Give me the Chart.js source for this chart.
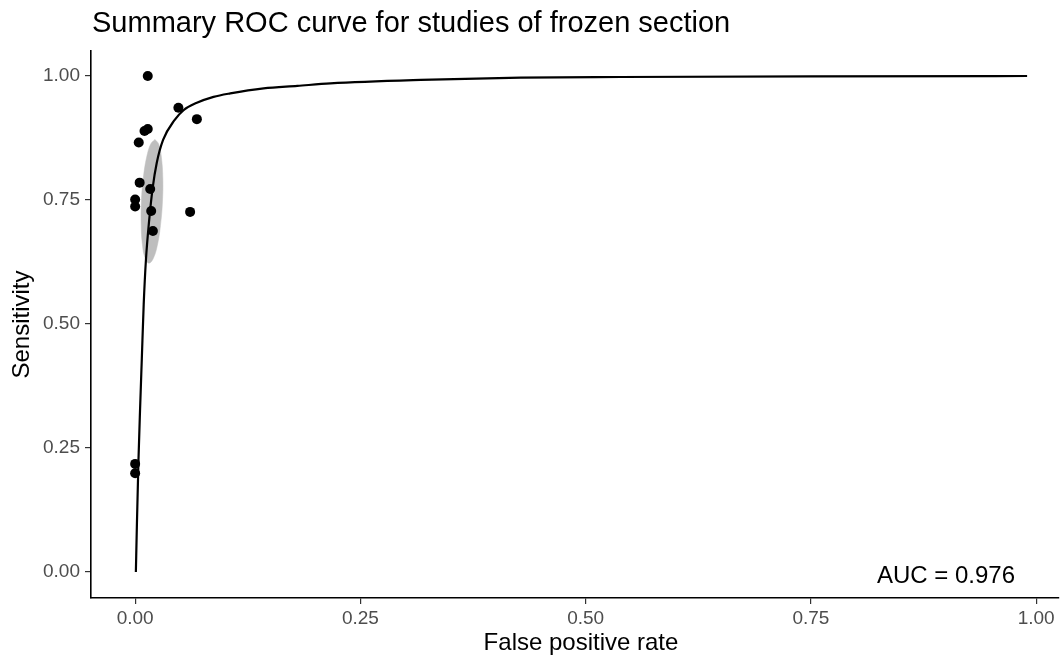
<!DOCTYPE html>
<html>
<head>
<meta charset="utf-8">
<script src="https://cdn.jsdelivr.net/npm/chart.js@4/dist/chart.umd.min.js"></script>
<style>
  html, body { margin: 0; padding: 0; background: #ffffff; }
  #wrap { width: 1064px; height: 656px; position: relative; }
</style>
</head>
<body>
<div id="wrap"><canvas id="c" width="1064" height="656"></canvas></div>
<script>
// ---- data ----
const chartTitle = "Summary ROC curve for studies of frozen section";
const xTitle = "False positive rate";
const yTitle = "Sensitivity";
const aucLabel = "AUC = 0.976";

const xTicks = [0, 0.25, 0.5, 0.75, 1.0];
const yTicks = [0, 0.25, 0.5, 0.75, 1.0];

// study points
const studyFpr  = [0.014, 0.048, 0.0685, 0.014, 0.0104, 0.004, 0.005, 0.0167, 0.0, 0.0, 0.0178, 0.061, 0.0197, 0.0, 0.0];
const studySens = [1.000, 0.936, 0.913,  0.893, 0.889,  0.866, 0.785, 0.772,  0.751, 0.737, 0.728, 0.726, 0.6875, 0.218, 0.199];

// SROC curve
const curveFpr  = [0.0008, 0.0020, 0.0037, 0.0055, 0.0074, 0.0095, 0.0120, 0.0156, 0.0195, 0.024, 0.031, 0.0437, 0.0537, 0.0685, 0.087, 0.1056, 0.1426, 0.18, 0.2167, 0.317, 0.428, 0.539, 0.75, 0.99];
const curveSens = [0.0,    0.10,   0.226,  0.33,   0.43,   0.54,   0.63,   0.71,   0.775,  0.825, 0.871, 0.911,  0.931,  0.946,  0.958, 0.965,  0.975,  0.980, 0.985,  0.992, 0.9966, 0.998, 0.9994, 1.0];

// confidence region outline
const regionFpr  = [0.0220, 0.0262, 0.0292, 0.0307, 0.0303, 0.0281, 0.0246, 0.0200, 0.0153, 0.0111, 0.0081, 0.0067, 0.0070, 0.0092, 0.0128, 0.0173, 0.0220];
const regionSens = [0.8722, 0.8623, 0.8349, 0.7941, 0.7464, 0.6986, 0.6583, 0.6317, 0.6226, 0.6325, 0.6597, 0.7004, 0.7484, 0.7962, 0.8365, 0.8631, 0.8722];

const toXY = (xs, ys) => xs.map((x, i) => ({ x: x, y: ys[i] }));

const FONT = "'Liberation Sans', Arial, Helvetica, sans-serif";

const textPlugin = {
  id: 'texts',
  afterDraw(chart) {
    const ctx = chart.ctx;
    const ca = chart.chartArea;
    ctx.save();
    ctx.fillStyle = '#000000';
    ctx.textBaseline = 'alphabetic';
    // title
    ctx.font = '29px ' + FONT;
    ctx.textAlign = 'left';
    ctx.fillText(chartTitle, 92, 32);
    // AUC annotation
    ctx.font = '24px ' + FONT;
    ctx.textAlign = 'right';
    ctx.fillText(aucLabel, 1015, 583);
    // x axis title
    ctx.textAlign = 'center';
    ctx.fillText(xTitle, 581, 650);
    // y axis title
    ctx.translate(22, (ca.top + ca.bottom) / 2);
    ctx.rotate(-Math.PI / 2);
    ctx.textBaseline = 'middle';
    ctx.fillText(yTitle, 0, 0);
    ctx.restore();
  }
};

const tickFmt = v => Number(v).toFixed(2);

new Chart(document.getElementById('c'), {
  type: 'scatter',
  data: {
    datasets: [
      {
        data: toXY(studyFpr, studySens),
        backgroundColor: '#000000',
        borderColor: '#000000',
        pointRadius: 5,
        pointBorderWidth: 0,
        showLine: false
      },
      {
        data: toXY(curveFpr, curveSens),
        showLine: true,
        borderColor: '#000000',
        borderWidth: 2.2,
        pointRadius: 0,
        cubicInterpolationMode: 'monotone',
        fill: false
      },
      {
        data: toXY(regionFpr, regionSens),
        showLine: true,
        borderColor: 'rgba(190,190,190,1)',
        borderWidth: 0.5,
        backgroundColor: 'rgba(190,190,190,1)',
        pointRadius: 0,
        tension: 0.4,
        fill: 'shape'
      }
    ]
  },
  options: {
    responsive: false,
    animation: false,
    events: [],
    layout: { padding: { top: 51, right: 0, bottom: 0, left: 0 } },
    plugins: { legend: { display: false }, tooltip: { enabled: false }, title: { display: false } },
    scales: {
      x: {
        type: 'linear',
        min: -0.049,
        max: 1.0254,
        afterBuildTicks: s => { s.ticks = xTicks.map(v => ({ value: v })); },
        afterFit: s => { s.height = 58; },
        grid: { display: true, drawOnChartArea: false, drawTicks: true, tickLength: 6, color: '#333333', lineWidth: 1.2 },
        border: { display: true, color: '#000000', width: 1.6 },
        ticks: { callback: tickFmt, color: '#4d4d4d', font: { family: FONT, size: 19 }, padding: 3, maxRotation: 0 }
      },
      y: {
        type: 'linear',
        min: -0.0524,
        max: 1.0504,
        afterBuildTicks: s => { s.ticks = yTicks.map(v => ({ value: v })); },
        afterFit: s => { s.width = 91; },
        grid: { display: true, drawOnChartArea: false, drawTicks: true, tickLength: 6, color: '#333333', lineWidth: 1.2 },
        border: { display: true, color: '#000000', width: 1.6 },
        ticks: { callback: tickFmt, color: '#4d4d4d', font: { family: FONT, size: 19 }, padding: 5 }
      }
    }
  },
  plugins: [textPlugin]
});
</script>
</body>
</html>
